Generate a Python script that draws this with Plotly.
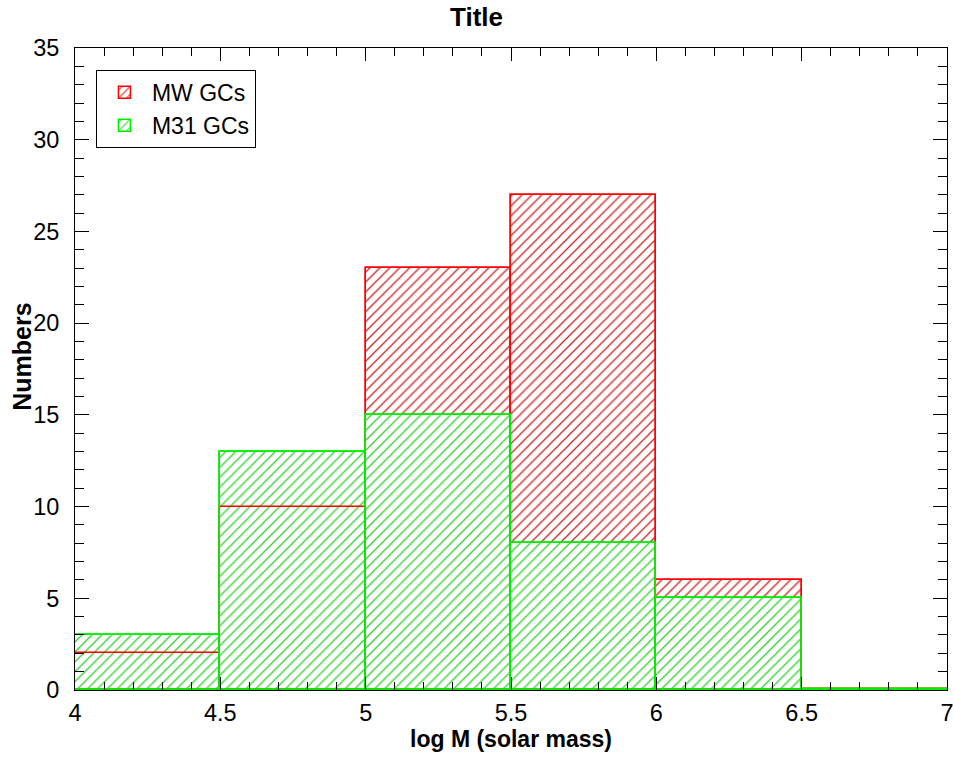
import plotly.graph_objects as go

bin_edges = [4.0, 4.5, 5.0, 5.5, 6.0, 6.5, 7.0]
mw_counts = [2, 10, 23, 27, 6, 0]
m31_counts = [3, 13, 15, 8, 5, 0]
x_ticks = [4, 4.5, 5, 5.5, 6, 6.5, 7]
x_tick_labels = ["4", "4.5", "5", "5.5", "6", "6.5", "7"]
y_ticks = [0, 5, 10, 15, 20, 25, 30, 35]

centers = [(a + b) / 2 for a, b in zip(bin_edges[:-1], bin_edges[1:])]
widths = [b - a for a, b in zip(bin_edges[:-1], bin_edges[1:])]

RED = "#ff0000"
GREEN = "#00ee00"
FONT = "Liberation Sans, Arial, sans-serif"

fig = go.Figure()

def fill_trace(y, col, name, pcol):
    return go.Bar(
        x=centers, y=y, width=widths, name=name,
        marker=dict(color="white", line=dict(color=col, width=1.5),
                    pattern=dict(shape="/", fgcolor=pcol, bgcolor="white",
                                 fillmode="replace", size=7, solidity=0.18)),
    )

def outline_trace(y, col, lw):
    return go.Bar(
        x=centers, y=y, width=widths, showlegend=False, hoverinfo="skip",
        marker=dict(color="rgba(0,0,0,0)", line=dict(color=col, width=lw)),
    )

fig.add_trace(fill_trace(mw_counts, RED, "MW GCs", "#d02020"))
fig.add_trace(fill_trace(m31_counts, GREEN, "M31 GCs", "#30d030"))
fig.add_trace(outline_trace(mw_counts, RED, 1.5))
fig.add_trace(outline_trace(m31_counts, GREEN, 1.8))

# zero-valued bins drawn as flat lines on the baseline
for counts, col in ((mw_counts, RED), (m31_counts, GREEN)):
    for i, v in enumerate(counts):
        if v == 0:
            fig.add_trace(go.Scatter(
                x=[bin_edges[i], bin_edges[i + 1]], y=[v, v], mode="lines",
                line=dict(color=col, width=5), showlegend=False,
                hoverinfo="skip", cliponaxis=False))

axis_common = dict(
    showline=True, linecolor="black", linewidth=1, mirror="allticks",
    ticks="inside", tickwidth=1, tickcolor="black",
    showgrid=False, zeroline=False, automargin=False,
    ticklabeloverflow="allow",
    tickfont=dict(family=FONT, size=23.5, color="black"),
)

fig.update_layout(
    width=953, height=758,
    margin=dict(l=75, r=6, t=48, b=68),
    paper_bgcolor="white", plot_bgcolor="white",
    barmode="overlay", bargap=0,
    title=dict(text="<b>Title</b>", x=0.5, xanchor="center", y=0.978, yanchor="middle",
               font=dict(family=FONT, size=26, color="black")),
    xaxis=dict(range=[4, 7], tickvals=x_ticks, ticktext=x_tick_labels, ticklen=13,
               ticklabelstandoff=2,
               minor=dict(dtick=0.1, ticks="inside", ticklen=8, tickcolor="black"),
               title=dict(text="<b>log M (solar mass)</b>", standoff=0,
                          font=dict(family=FONT, size=23, color="black")),
               **axis_common),
    yaxis=dict(range=[0, 35], tickvals=y_ticks, ticklen=14, ticklabelstandoff=10,
               minor=dict(dtick=1, ticks="inside", ticklen=9, tickcolor="black"),
               **axis_common),
    annotations=[dict(text="<b>Numbers</b>", textangle=-90, showarrow=False,
                      xref="paper", yref="paper", x=-0.0608, y=0.519,
                      xanchor="center", yanchor="middle",
                      font=dict(family=FONT, size=25, color="black"))],
    legend=dict(x=0.024, y=0.966, xanchor="left", yanchor="top",
                bgcolor="white", bordercolor="black", borderwidth=1,
                font=dict(family=FONT, size=23, color="black"),
                itemwidth=45, tracegroupgap=0),
    showlegend=True,
)

fig.write_html("out.html")
